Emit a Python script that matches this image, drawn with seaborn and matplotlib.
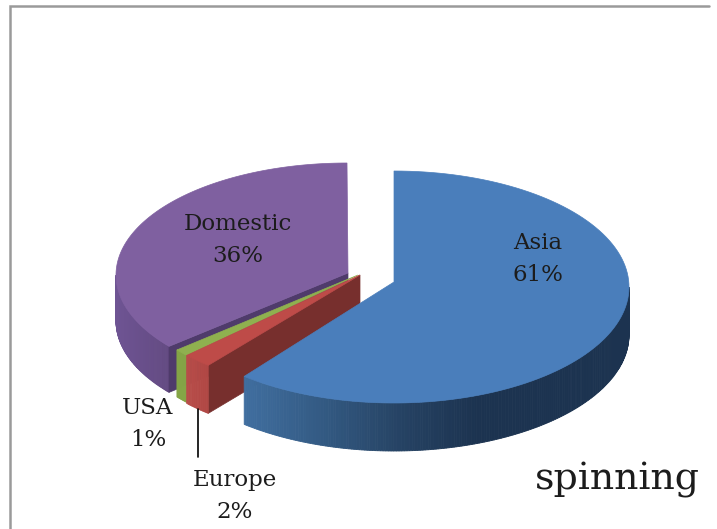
import matplotlib
matplotlib.use("Agg")
import matplotlib.pyplot as plt
from matplotlib.patches import Polygon
import numpy as np
import seaborn as sns

categories = ["Asia", "Europe", "USA", "Domestic"]
shares = [61, 2, 1, 36]
top_colors = ["#4a7ebb", "#be4b48", "#8fb04f", "#7f60a0"]
side_colors = [
    ["#406e9f", "#335a83", "#264364", "#1c3350", "#1c3350", "#1c3350"],
    ["#b84d49", "#b04744"],
    ["#85a546", "#85a546"],
    ["#6e5493", "#634a82"],
]

# slice geometry in pixels: ellipse centre, apex, radii, wall height
centres = [(394, 287), (358, 276), (358, 276), (347, 275)]
apexes = [(394, 282), (360, 275), (358, 275), (348, 273)]
rx = [235, 235, 235, 231]
ry = [116, 116, 116, 112]
depth = [48, 48, 47, 46]

sns.set_theme(style="white")
plt.rcParams["font.family"] = ["DejaVu Serif"]

fig = plt.figure(figsize=(7.17, 5.29), dpi=100)
ax = fig.add_axes([0, 0, 1, 1])
ax.set_xlim(0, 717)
ax.set_ylim(529, 0)
ax.axis("off")

# picture frame, only top and left are in view
ax.plot([9.5, 9.5, 709], [529, 6, 6], color="#9a9a9a", lw=1.8, solid_joinstyle="miter")


def arc(i, a0, a1, n=120):
    t = np.radians(np.linspace(a0, a1, n))
    cx, cy = centres[i]
    return np.column_stack([cx + rx[i] * np.sin(t), cy - ry[i] * np.cos(t)])


def draw_side(i, a0, a1, n=90):
    # outer wall drawn as thin strips, shade runs left to right
    pts = arc(i, a0, a1, n + 1)
    shades = sns.blend_palette(side_colors[i], 256)
    x0, x1 = pts[:, 0].min(), pts[:, 0].max()
    for k in range(n):
        p = pts[k:k + 2]
        c = shades[int(255 * (p[:, 0].mean() - x0) / (x1 - x0))]
        quad = np.vstack([p, p[::-1] + [0, depth[i]]])
        ax.add_patch(Polygon(quad, fc=c, ec=c, lw=0.6))


def draw_top(i, a0, a1):
    ax.add_patch(Polygon(np.vstack([apexes[i], arc(i, a0, a1)]), fc=top_colors[i], ec=top_colors[i], lw=0.5))


def cut_face(i, a, color):
    p = arc(i, a, a, 1)[0]
    apex = np.array(apexes[i])
    quad = [apex, p, p + [0, depth[i]], apex + [0, depth[i]]]
    ax.add_patch(Polygon(quad, fc=color, ec=color, lw=0.5))


edges = np.cumsum([0] + shares) / sum(shares) * 360

# back to front: Domestic, USA, Europe, Asia
draw_side(3, edges[3], 270)
cut_face(3, edges[3], "#4f3b6b")
draw_top(3, edges[3], edges[4])
draw_side(2, edges[2], edges[3], 10)
draw_top(2, edges[2], edges[3])
cut_face(1, edges[1], "#772f2d")
draw_side(1, edges[1], edges[2], 12)
draw_top(1, edges[1], edges[2])
draw_side(0, 90, edges[1], 200)
draw_top(0, edges[0], edges[1])

ax.plot([198, 198], [409, 457], color="black", lw=1.2)

label_pos = [(538, 259), (235, 496), (148, 424), (238, 240)]
for name, share, (x, y) in zip(categories, shares, label_pos):
    ax.text(x, y, f"{name}\n{share}%", ha="center", va="center", fontsize=16.5, color="#1c1c1c", linespacing=1.6)

ax.text(535, 490, "spinning", ha="left", va="baseline", fontsize=27.3, color="#1c1c1c")

fig.savefig("out.png", dpi=100)
